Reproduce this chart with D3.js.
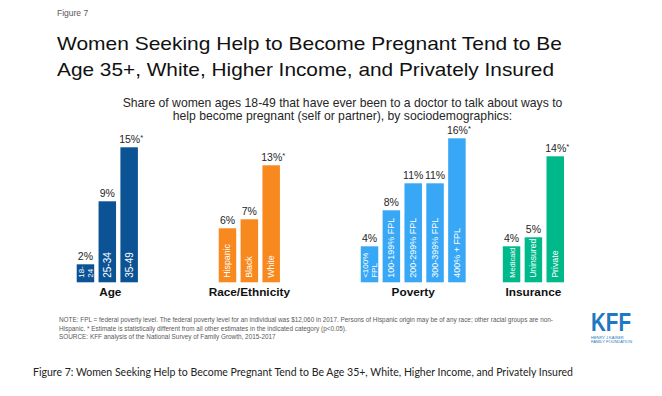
<!DOCTYPE html>
<html>
<head>
<meta charset="utf-8">
<script src="https://cdn.jsdelivr.net/npm/d3@7"></script>
<style>
  body { margin: 0; background: #fff; }
  svg { display: block; font-family: "Liberation Sans", Arial, sans-serif; }
</style>
</head>
<body>
<div id="chart"></div>
<script>
// ---- data ----
const groupNames = ["Age", "Race/Ethnicity", "Poverty", "Insurance"];
const groupColors = ["#0b5394", "#f7891f", "#38a8f6", "#00b98b"];

// each label is a list of lines (drawn rotated inside the bar)
const barLabels = [
    ["18-", "24"], ["25-34"], ["35-49"],
    ["Hispanic"], ["Black"], ["White"],
    ["<100%", "FPL"], ["100-199% FPL"], ["200-299% FPL"], ["300-399% FPL"], ["400% + FPL"],
    ["Medicaid"], ["Uninsured"], ["Private"]
];
const barGroup = [0, 0, 0, 1, 1, 1, 2, 2, 2, 2, 2, 3, 3, 3];
const barValues = [2, 9, 15, 6, 7, 13, 4, 8, 11, 11, 16, 4, 5, 14];
const barStarred = [false, false, true, false, false, true, false, false, false, false, true, false, false, true];

const titleLines = [
    "Women Seeking Help to Become Pregnant Tend to Be",
    "Age 35+, White, Higher Income, and Privately Insured"
];
const subtitleLines = [
    "Share of women ages 18-49 that have ever been to a doctor to talk about ways to",
    "help become pregnant (self or partner), by sociodemographics:"
];
const noteLines = [
    "NOTE: FPL = federal poverty level.  The federal poverty  level for an individual  was $12,060  in 2017. Persons of Hispanic origin may be of any race; other racial groups are non-",
    "Hispanic. * Estimate is statistically different from all other estimates in the indicated category (p<0.05).",
    "SOURCE: KFF analysis of the National  Survey  of Family Growth, 2015-2017"
];
const captionText = "Figure 7: Women Seeking Help to Become Pregnant Tend to Be Age 35+, White, Higher Income, and Privately Insured";

// ---- layout ----
const width = 662, height = 396;
const extraGap = [0, 3.5, 3.5, 1.5];      // empty slots before each group
const insideFont = [10, 8.8, 9, 8.8];
const barWidth = 17.5;

// slot index of each bar
let slots = [];
let s = 0;
barValues.forEach((v, i) => {
    if (i > 0) {
        s += 1;
        if (barGroup[i] !== barGroup[i - 1]) s += extraGap[barGroup[i]];
    }
    slots.push(s);
});

let bars = barValues.map((v, i) => ({
    value: v,
    label: barLabels[i],
    group: barGroup[i],
    starred: barStarred[i],
    slot: slots[i]
}));

let svg = d3.select("#chart").append("svg")
    .attr("width", width)
    .attr("height", height);

svg.append("rect").attr("width", width).attr("height", height).attr("fill", "#fff");

// scales
let x = d3.scaleLinear()
    .domain([0, 21.5])
    .range([76.7, 546.5]);

let y = d3.scaleLinear()
    .domain([0, 16])
    .range([282.3, 138.3]);

// header
svg.append("text")
    .attr("x", 57).attr("y", 16)
    .attr("font-size", 8.5)
    .attr("fill", "#595959")
    .text("Figure 7");

svg.selectAll(".title")
    .data(titleLines)
    .enter().append("text")
    .attr("class", "title")
    .attr("x", 57)
    .attr("y", (d, i) => 50 + i * 26)
    .attr("font-size", 19)
    .attr("fill", "#111")
    .attr("textLength", (d, i) => i === 0 ? 505 : 497)
    .attr("lengthAdjust", "spacingAndGlyphs")
    .text(d => d);

svg.selectAll(".subtitle")
    .data(subtitleLines)
    .enter().append("text")
    .attr("class", "subtitle")
    .attr("x", 342.5)
    .attr("y", (d, i) => 106.7 + i * 12.8)
    .attr("text-anchor", "middle")
    .attr("font-size", 12.2)
    .attr("fill", "#262626")
    .text(d => d);

// bars
let barG = svg.append("g").attr("class", "bars");

barG.selectAll("rect")
    .data(bars)
    .enter().append("rect")
    .attr("x", d => x(d.slot))
    .attr("y", d => y(d.value))
    .attr("width", barWidth)
    .attr("height", d => y(0) - y(d.value))
    .attr("fill", d => groupColors[d.group]);

// value labels
let vals = barG.selectAll(".val")
    .data(bars)
    .enter().append("text")
    .attr("class", "val")
    .attr("x", d => x(d.slot) + barWidth / 2 + (d.starred ? 2 : 0))
    .attr("y", d => y(d.value) - 4.5)
    .attr("text-anchor", "middle")
    .attr("font-size", 10.5)
    .attr("fill", "#262626")
    .text(d => d.value + "%");

vals.filter(d => d.starred)
    .append("tspan")
    .attr("font-size", 7.5)
    .attr("dy", -3)
    .text("*");

// category labels inside bars
let inside = barG.selectAll(".cat")
    .data(bars)
    .enter().append("text")
    .attr("class", "cat")
    .attr("transform", d => `translate(${x(d.slot) + barWidth / 2}, ${y(0) - 4.5}) rotate(-90)`)
    .attr("font-size", d => d.label.length > 1 ? 8 : insideFont[d.group])
    .attr("fill", "#fff")
    .attr("dominant-baseline", "central");

inside.selectAll("tspan")
    .data(d => d.label.map((line, i) => ({line, i, n: d.label.length})))
    .enter().append("tspan")
    .attr("x", 0)
    .attr("y", d => d.n > 1 ? (d.i - (d.n - 1) / 2) * 8.6 : 0)
    .text(d => d.line);

// shrink labels whose longest line is longer than the bar
inside.each(function(d) {
    let room = y(0) - y(d.value) - 6;
    let len = d3.max(d3.select(this).selectAll("tspan").nodes(), n => n.getComputedTextLength());
    if (len > room) {
        let fs = parseFloat(d3.select(this).attr("font-size"));
        d3.select(this).attr("font-size", fs * room / len);
    }
});

// group labels
svg.selectAll(".group")
    .data(groupNames)
    .enter().append("text")
    .attr("class", "group")
    .attr("x", (d, g) => {
        let ext = d3.extent(bars.filter(b => b.group === g), b => b.slot);
        return (x(ext[0]) + x(ext[1]) + barWidth) / 2 + (g === 0 ? 3 : 0);
    })
    .attr("y", 296)
    .attr("text-anchor", "middle")
    .attr("font-size", 11.8)
    .attr("font-weight", "bold")
    .attr("fill", "#111")
    .text(d => d);

// notes
svg.selectAll(".note")
    .data(noteLines)
    .enter().append("text")
    .attr("class", "note")
    .attr("x", 59)
    .attr("y", (d, i) => 322 + i * 8.6)
    .attr("font-size", 6.4)
    .attr("fill", "#595959")
    .text(d => d);

// KFF logo
let logo = svg.append("g").attr("transform", "translate(591, 0)");
logo.append("text")
    .attr("x", 0).attr("y", 331)
    .attr("font-size", 25)
    .attr("font-weight", "bold")
    .attr("fill", "#1f78c1")
    .attr("textLength", 40)
    .attr("lengthAdjust", "spacingAndGlyphs")
    .text("KFF");
logo.selectAll(".sub")
    .data(["HENRY J KAISER", "FAMILY FOUNDATION"])
    .enter().append("text")
    .attr("x", 0)
    .attr("y", (d, i) => 338.5 + i * 4.5)
    .attr("font-size", 4)
    .attr("fill", "#1f78c1")
    .text(d => d);

// caption
svg.append("text")
    .attr("x", 33)
    .attr("y", 376)
    .attr("font-family", "Lato, 'Open Sans', sans-serif")
    .attr("font-size", 11.5)
    .attr("fill", "#222")
    .attr("textLength", 540)
    .attr("lengthAdjust", "spacingAndGlyphs")
    .text(captionText);
</script>
</body>
</html>
